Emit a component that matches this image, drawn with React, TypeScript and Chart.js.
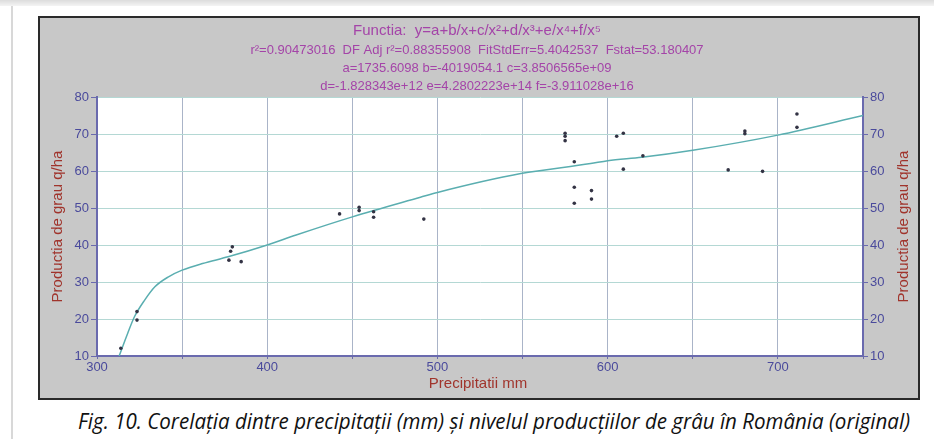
import React, { useEffect, useRef } from "react";
import { Chart, registerables } from "chart.js";

Chart.register(...registerables);

// Observed data points (precipitation mm, wheat production q/ha)
const pointX = [314, 323.5, 323.5, 379.5, 378.5, 377.5, 384.7, 442.5, 454, 454, 462.5, 462.5, 492, 575, 575, 575, 580.4, 580.4, 580.4, 590.5, 590.5, 605.3, 609.2, 609.2, 620.7, 670.8, 680.6, 680.6, 691, 711.2, 711.2];
const pointY = [12.1, 22.0, 19.7, 39.5, 38.3, 35.9, 35.5, 48.4, 50.2, 49.3, 49.0, 47.5, 47.0, 70.2, 69.4, 68.2, 62.5, 55.6, 51.3, 54.7, 52.4, 69.4, 70.2, 60.5, 64.1, 60.3, 70.8, 70.1, 59.9, 75.4, 71.8];

// Fitted curve
const curveX = [313, 318, 322, 328, 334, 342, 350, 362, 377, 400, 417, 450, 490, 500, 549, 590, 600, 620, 650, 700, 750];
const curveY = [10, 16.1, 20.6, 25.1, 28.7, 31.4, 33.2, 35.0, 36.8, 40.0, 42.7, 47.6, 52.9, 54.2, 59.3, 62.0, 62.8, 63.7, 65.6, 69.7, 75.0];

const xTickLabels = [300, 400, 500, 600, 700];

const titleLines = [
  "Functia:  y=a+b/x+c/x²+d/x³+e/x⁴+f/x⁵",
  "r²=0.90473016  DF Adj r²=0.88355908  FitStdErr=5.4042537  Fstat=53.180407",
  "a=1735.6098 b=-4019054.1 c=3.8506565e+09",
  "d=-1.828343e+12 e=4.2802223e+14 f=-3.911028e+16",
];
const yTitle = "Productia de grau q/ha";
const xTitle = "Precipitatii mm";
const caption = "Fig. 10. Corelația dintre precipitații (mm) și nivelul producțiilor de grâu în România (original)";

const TICK_COLOR = "#4a4a9c";
const AXIS_COLOR = "#6a6aae";
const TITLE_COLOR = "#a444a8";
const AXTITLE_COLOR = "#a0342c";

export default function App() {
  const ref = useRef<HTMLCanvasElement | null>(null);

  useEffect(() => {
    if (!ref.current) return;
    const bgPlugin = {
      id: "plotBg",
      beforeDraw(chart: any) {
        const { ctx, chartArea } = chart;
        ctx.save();
        ctx.fillStyle = "#ffffff";
        ctx.fillRect(chartArea.left, chartArea.top, chartArea.right - chartArea.left, chartArea.bottom - chartArea.top);
        ctx.restore();
      },
    };
    const textPlugin = {
      id: "texts",
      afterDraw(chart: any) {
        const { ctx, chartArea } = chart;
        ctx.save();
        ctx.fillStyle = TITLE_COLOR;
        ctx.textAlign = "center";
        ctx.textBaseline = "middle";
        const cx = 437;
        const ys = [13, 32, 50, 68];
        const widths = [298, 457, 310, 358];
        const fonts = ["15px Arial, 'Liberation Sans', sans-serif", "13px Arial, 'Liberation Sans', sans-serif", "13px Arial, 'Liberation Sans', sans-serif", "13px Arial, 'Liberation Sans', sans-serif"];
        titleLines.forEach((t, i) => {
          ctx.font = fonts[i];
          ctx.fillText(t, cx, ys[i], widths[i]);
        });
        // axis titles
        ctx.fillStyle = AXTITLE_COLOR;
        ctx.font = "15px Arial, 'Liberation Sans', sans-serif";
        const midY = (chartArea.top + chartArea.bottom) / 2;
        ctx.save();
        ctx.translate(18, midY);
        ctx.rotate(-Math.PI / 2);
        ctx.fillText(yTitle, 0, 0, 186);
        ctx.restore();
        ctx.save();
        ctx.translate(864, midY);
        ctx.rotate(-Math.PI / 2);
        ctx.fillText(yTitle, 0, 0, 186);
        ctx.restore();
        ctx.font = "15px Arial, 'Liberation Sans', sans-serif";
        ctx.fillText(xTitle, 438, 366, 112);
        ctx.restore();
      },
    };

    const chart = new Chart(ref.current, {
      type: "scatter",
      data: {
        datasets: [
          {
            type: "line",
            label: "fit",
            data: curveX.map((x, i) => ({ x, y: curveY[i] })),
            borderColor: "#5aaeb0",
            borderWidth: 1.5,
            pointRadius: 0,
            fill: false,
            cubicInterpolationMode: "monotone",
            order: 2,
          } as any,
          {
            label: "data",
            data: pointX.map((x, i) => ({ x, y: pointY[i] })),
            backgroundColor: "#333344",
            borderColor: "#333344",
            borderWidth: 0,
            pointRadius: 1.8,
            order: 1,
          },
        ],
      },
      options: {
        responsive: false,
        animation: false,
        devicePixelRatio: 1,
        layout: { padding: { top: 79, left: 0, right: 0, bottom: 0 } },
        plugins: {
          legend: { display: false },
          tooltip: { enabled: false },
          title: { display: false },
        },
        scales: {
          x: {
            type: "linear",
            min: 300,
            max: 750,
            ticks: {
              stepSize: 50,
              color: TICK_COLOR,
              font: { size: 13, family: "Arial, 'Liberation Sans', sans-serif" },
              padding: 1,
              maxRotation: 0,
              autoSkip: false,
              callback: (v: any) => (xTickLabels.includes(Number(v)) ? String(v) : ""),
            },
            grid: { color: "#aab4c8", lineWidth: 1, tickLength: 3, tickColor: AXIS_COLOR },
            border: { color: AXIS_COLOR, width: 2 },
            afterFit: (s: any) => { s.height = 42; },
          },
          y: {
            position: "left",
            min: 10,
            max: 80,
            ticks: {
              stepSize: 10,
              color: TICK_COLOR,
              font: { size: 13, family: "Arial, 'Liberation Sans', sans-serif" },
              padding: 2,
            },
            grid: { color: "#b4d8d4", lineWidth: 1, tickLength: 6, tickColor: AXIS_COLOR },
            border: { color: AXIS_COLOR, width: 2 },
            afterFit: (s: any) => { s.width = 57; },
          },
          y2: {
            position: "right",
            min: 10,
            max: 80,
            ticks: {
              stepSize: 10,
              color: TICK_COLOR,
              font: { size: 13, family: "Arial, 'Liberation Sans', sans-serif" },
              padding: 2,
            },
            grid: { drawOnChartArea: false, tickLength: 5, tickColor: AXIS_COLOR },
            border: { color: AXIS_COLOR, width: 2 },
            afterFit: (s: any) => { s.width = 55; },
          },
        },
      } as any,
      plugins: [bgPlugin, textPlugin],
    });
    return () => chart.destroy();
  }, []);

  return (
    <div style={{ position: "fixed", left: 0, top: 0, width: 934, height: 439, background: "#ffffff", overflow: "hidden" }}>
      <div style={{ position: "absolute", left: 0, top: 0, width: 934, height: 6, background: "linear-gradient(#dcdcdc, #f4f4f4)" }} />
      <div style={{ position: "absolute", left: 11, top: 6, width: 2, height: 433, background: "#d8d8d8" }} />
      <div style={{ position: "absolute", left: 38, top: 16, width: 878, height: 380, border: "2px solid #2a2a2a", background: "#c8c8c8" }}>
        <canvas ref={ref} width={878} height={380} style={{ display: "block", width: 878, height: 380 }} />
      </div>
      <svg style={{ position: "absolute", left: 0, top: 404 }} width={934} height={35}>
        <text x={78} y={25} textLength={832} lengthAdjust="spacingAndGlyphs" fill="#111" fontStyle="italic" fontSize={21} fontFamily="'Open Sans', 'Liberation Sans', sans-serif">{caption}</text>
      </svg>
    </div>
  );
}
